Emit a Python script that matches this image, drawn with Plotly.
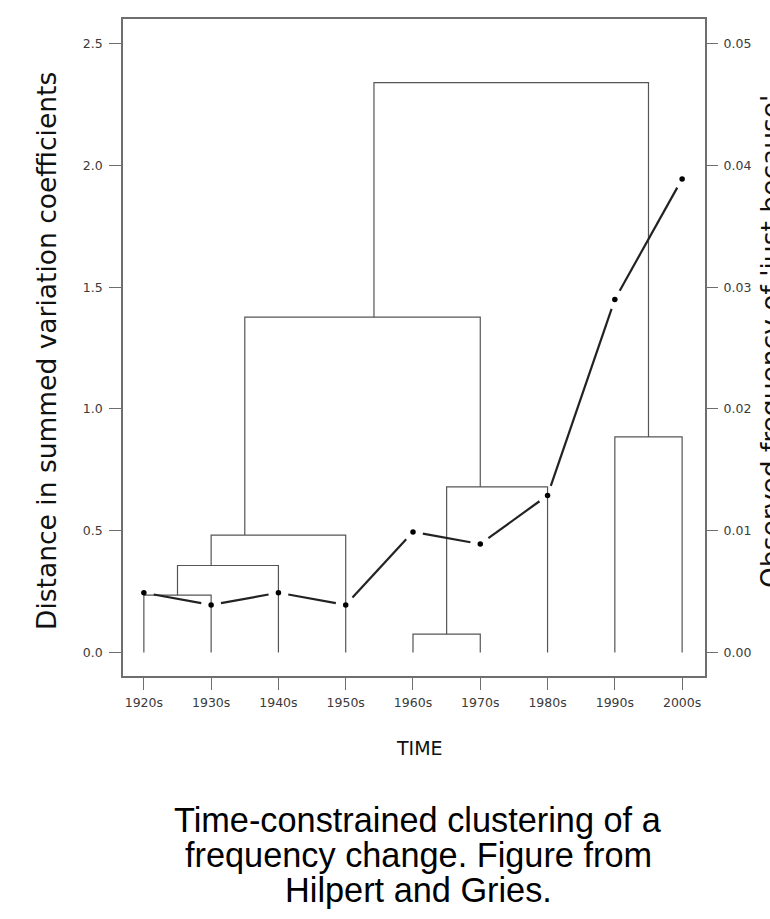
import math
import plotly.graph_objects as go

# ---------------- data ----------------
decades = ["1920s", "1930s", "1940s", "1950s", "1960s", "1970s", "1980s", "1990s", "2000s"]
freq = [0.0049, 0.0039, 0.0049, 0.0039, 0.0099, 0.0089, 0.0129, 0.0290, 0.0389]

# dendrogram (R hclust style: negative = leaf number, positive = merge row)
merge_left = [-1, 1, 2, -5, 4, 3, -8, 6]
merge_right = [-2, -3, -4, -6, -7, 5, -9, 7]
merge_height = [0.235, 0.357, 0.482, 0.075, 0.680, 1.377, 0.885, 2.341]
merge_x = [0.5, 1.0, 1.5, 4.5, 5.0, 3.42, 7.5, 5.46]

left_ticks = [0.0, 0.5, 1.0, 1.5, 2.0, 2.5]
right_ticks = [0.00, 0.01, 0.02, 0.03, 0.04, 0.05]

# ---------------- layout geometry ----------------
W, H = 770, 919
ML, MR, MT, MB = 123, 65, 19, 243
PW, PH = W - ML - MR, H - MT - MB
XR = [-0.31, 8.34]
YR = [-0.097, 2.602]
Y2R = [YR[0] / 50, YR[1] / 50]


def px_to_paper(xp, yp):
    return (xp - ML) / PW, (H - MB - yp) / PH


# ---------------- dendrogram segments ----------------
def child(c):
    if c < 0:
        return (-c - 1, 0.0)
    return (merge_x[c - 1], merge_height[c - 1])


dx, dy = [], []
for i in range(len(merge_height)):
    xl, hl = child(merge_left[i])
    xr, hr = child(merge_right[i])
    h = merge_height[i]
    dx += [xl, xl, xr, xr, None]
    dy += [hl, h, h, hr, None]

# ---------------- line with gaps (type="b") ----------------
sx = PW / (XR[1] - XR[0])
sy = PH / (Y2R[1] - Y2R[0])
gap = 10.0
lx, ly = [], []
for i in range(len(freq) - 1):
    x0, y0 = i * sx, freq[i] * sy
    x1, y1 = (i + 1) * sx, freq[i + 1] * sy
    d = math.hypot(x1 - x0, y1 - y0)
    if d <= 2 * gap:
        continue
    ux, uy = (x1 - x0) / d, (y1 - y0) / d
    lx += [(x0 + gap * ux) / sx, (x1 - gap * ux) / sx, None]
    ly += [(y0 + gap * uy) / sy, (y1 - gap * uy) / sy, None]

fig = go.Figure()
fig.add_trace(go.Scatter(x=dx, y=dy, mode="lines",
                         line=dict(color="#555555", width=1.2),
                         hoverinfo="skip", showlegend=False))
fig.add_trace(go.Scatter(x=lx, y=ly, mode="lines", yaxis="y2",
                         line=dict(color="#222222", width=2.2),
                         hoverinfo="skip", showlegend=False))
fig.add_trace(go.Scatter(x=list(range(len(decades))), y=freq, mode="markers", yaxis="y2",
                         marker=dict(color="black", size=5.5),
                         hoverinfo="skip", showlegend=False))

tickfont = dict(family="DejaVu Sans", size=12.5, color="#3a3a3a")
axcol = "#6e6e6e"

fig.update_layout(
    width=W, height=H,
    margin=dict(l=ML, r=MR, t=MT, b=MB, pad=0),
    paper_bgcolor="white", plot_bgcolor="white",
    xaxis=dict(range=XR, tickvals=list(range(len(decades))), ticktext=decades,
               ticks="outside", ticklen=12, tickcolor=axcol, tickwidth=1.2,
               showline=True, linecolor=axcol, linewidth=1.5, mirror=True,
               showgrid=False, zeroline=False, tickfont=tickfont,
               ticklabelstandoff=2),
    yaxis=dict(range=YR, tickvals=left_ticks, ticktext=[f"{v:.1f}" for v in left_ticks],
               ticks="outside", ticklen=12, tickcolor=axcol, tickwidth=1.2,
               showline=True, linecolor=axcol, linewidth=1.5, mirror=True,
               showgrid=False, zeroline=False, tickfont=tickfont,
               ticklabelstandoff=4),
    yaxis2=dict(range=Y2R, overlaying="y", side="right",
                tickvals=right_ticks, ticktext=[f"{v:.2f}" for v in right_ticks],
                ticks="outside", ticklen=12, tickcolor=axcol, tickwidth=1.2,
                showline=False, showgrid=False, zeroline=False, tickfont=tickfont,
                ticklabelstandoff=3),
)

ann = []
x, y = px_to_paper(46, 351)
ann.append(dict(x=x, y=y, xref="paper", yref="paper", text="Distance in summed variation coefficients",
                textangle=-90, showarrow=False, xanchor="center", yanchor="middle",
                font=dict(family="DejaVu Sans", size=26.5, color="#111111")))
x, y = px_to_paper(770, 342)
ann.append(dict(x=x, y=y, xref="paper", yref="paper", text="Observed frequency of 'just because'",
                textangle=-90, showarrow=False, xanchor="center", yanchor="middle",
                font=dict(family="DejaVu Sans", size=26.5, color="#111111")))
x, y = px_to_paper(419, 748)
ann.append(dict(x=x, y=y, xref="paper", yref="paper", text="TIME", showarrow=False,
                xanchor="center", yanchor="middle",
                font=dict(family="DejaVu Sans", size=19, color="#111111")))
caption = ["Time-constrained clustering of a", "frequency change. Figure from", "Hilpert and Gries."]
for line, yp in zip(caption, [820, 855, 890]):
    x, y = px_to_paper(418, yp)
    ann.append(dict(x=x, y=y, xref="paper", yref="paper", text=line, showarrow=False,
                    xanchor="center", yanchor="middle",
                    font=dict(family="Liberation Sans", size=34.3, color="black")))
fig.update_layout(annotations=ann)

fig.write_html("out.html")
